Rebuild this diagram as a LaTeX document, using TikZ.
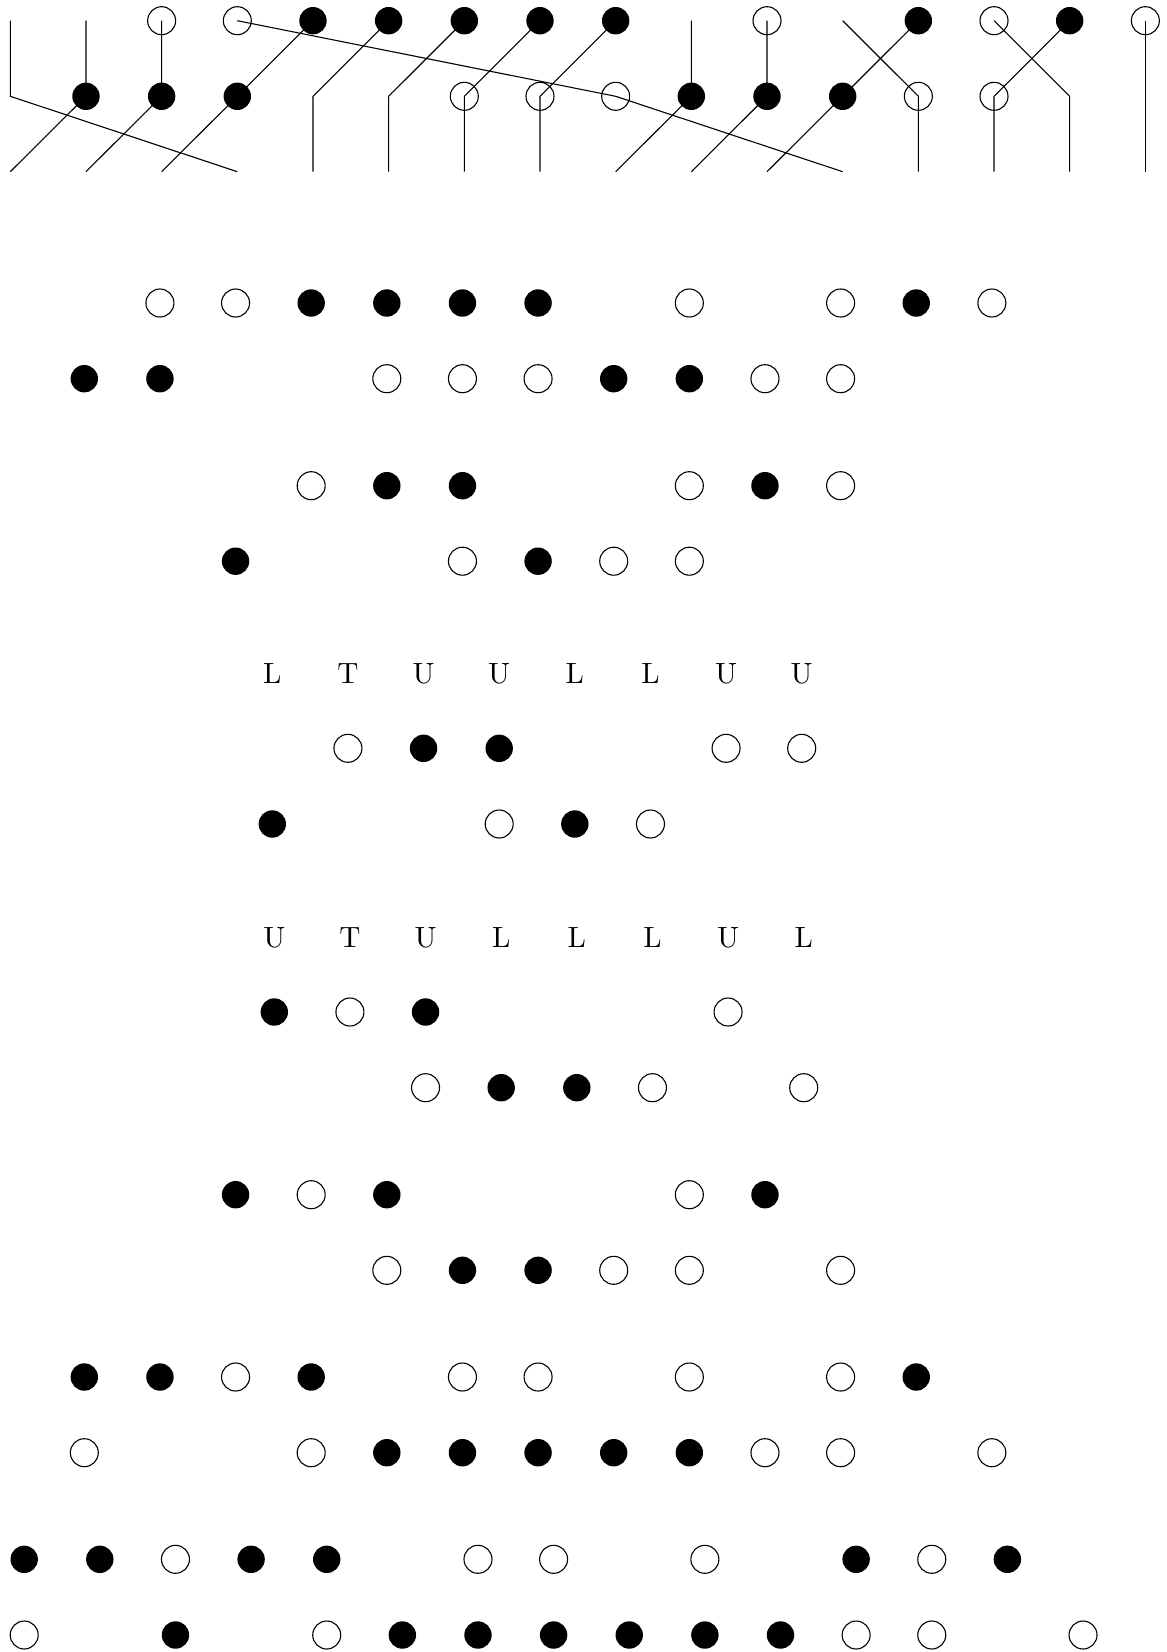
\documentclass[tikz,border=0pt]{standalone}
\tikzset{
  op/.style={circle,draw=black,fill=none,line width=1.1pt,minimum size=28pt,inner sep=0pt,outer sep=0pt},
  bk/.style={circle,fill=black,draw=none,minimum size=27.4pt,inner sep=0pt,outer sep=0pt},
  letr/.style={anchor=base,inner sep=0pt,outer sep=0pt,scale=2.93,font=\fontsize{10}{10}\selectfont},
  strand/.style={line width=1.1pt,line join=miter,draw=black}
}
% name, x of column 0, y, column/style list
\newcommand{\dotrow}[4]{\foreach \k/\s in {#4} {\node[\s] (#1\k) at ({#2+75.63*\k},#3) {};}}
\begin{document}
\begin{tikzpicture}[x=1pt,y=-1pt]
\useasboundingbox (0,0) rectangle (1167,1652);
\fill[white] (0,0) rectangle (1167,1652);
% braid: top row, middle row, bottom free ends
\foreach \k/\s in {2/op,3/op,4/bk,5/bk,6/bk,7/bk,8/bk,10/op,12/bk,13/op,14/bk,15/op}
  {\node[\s] (t\k) at ({10.3+75.67*\k},20.7) {};}
\foreach \k/\s in {1/bk,2/bk,3/bk,6/op,7/op,8/op,9/bk,10/bk,11/bk,12/op,13/op}
  {\node[\s] (m\k) at ({10.3+75.67*\k},96.3) {};}
\foreach \k in {0,1,9,11} {\coordinate (t\k) at ({10.3+75.67*\k},20.7);}
\foreach \k in {0,4,5,14,15} {\coordinate (m\k) at ({10.3+75.67*\k},96.3);}
\foreach \k in {0,...,15} {\coordinate (b\k) at ({10.3+75.67*\k},171.7);}
\foreach \a/\b/\c in {0/0/3,1/1/0,2/2/1,3/8/11,4/3/2,5/4/4,6/5/5,7/6/6,8/7/7,9/9/8,10/10/9,12/11/10,11/12/12,13/14/14,14/13/13,15/15/15}
  {\draw[strand] (t\a.center) -- (m\b.center) -- (b\c);}
% section A
\dotrow{At}{84.3}{303}{1/op,2/op,3/bk,4/bk,5/bk,6/bk,8/op,10/op,11/bk,12/op}
\dotrow{Ab}{84.3}{378.7}{0/bk,1/bk,4/op,5/op,6/op,7/bk,8/bk,9/op,10/op}
% section B
\dotrow{Bt}{84.3}{485.7}{3/op,4/bk,5/bk,8/op,9/bk,10/op}
\dotrow{Bb}{84.3}{561.2}{2/bk,5/op,6/bk,7/op,8/op}
% section C
\foreach \k/\s in {0/L,1/T,2/U,3/U,4/L,5/L,6/U,7/U}
  {\node[letr] (Cl\k) at ({272.3+75.63*\k},683.3) {\s};}
\dotrow{Ct}{272.3}{748.3}{1/op,2/bk,3/bk,6/op,7/op}
\dotrow{Cb}{272.3}{824}{0/bk,3/op,4/bk,5/op}
% section D
\foreach \k/\s in {0/U,1/T,2/U,3/L,4/L,5/L,6/U,7/L}
  {\node[letr] (Dl\k) at ({274.3+75.63*\k},947.3) {\s};}
\dotrow{Dt}{274.3}{1012}{0/bk,1/op,2/bk,6/op}
\dotrow{Db}{274.3}{1087.7}{2/op,3/bk,4/bk,5/op,7/op}
% section E
\dotrow{Et}{84.3}{1194.7}{2/bk,3/op,4/bk,8/op,9/bk}
\dotrow{Eb}{84.3}{1270.3}{4/op,5/bk,6/bk,7/op,8/op,10/op}
% section F
\dotrow{Ft}{84.3}{1377}{0/bk,1/bk,2/op,3/bk,5/op,6/op,8/op,10/op,11/bk}
\dotrow{Fb}{84.3}{1452.7}{0/op,3/op,4/bk,5/bk,6/bk,7/bk,8/bk,9/op,10/op,12/op}
% section G
\dotrow{Gt}{24.2}{1559.3}{0/bk,1/bk,2/op,3/bk,4/bk,6/op,7/op,9/op,11/bk,12/op,13/bk}
\dotrow{Gb}{24.2}{1635}{0/op,2/bk,4/op,5/bk,6/bk,7/bk,8/bk,9/bk,10/bk,11/op,12/op,14/op}
\end{tikzpicture}
\end{document}
